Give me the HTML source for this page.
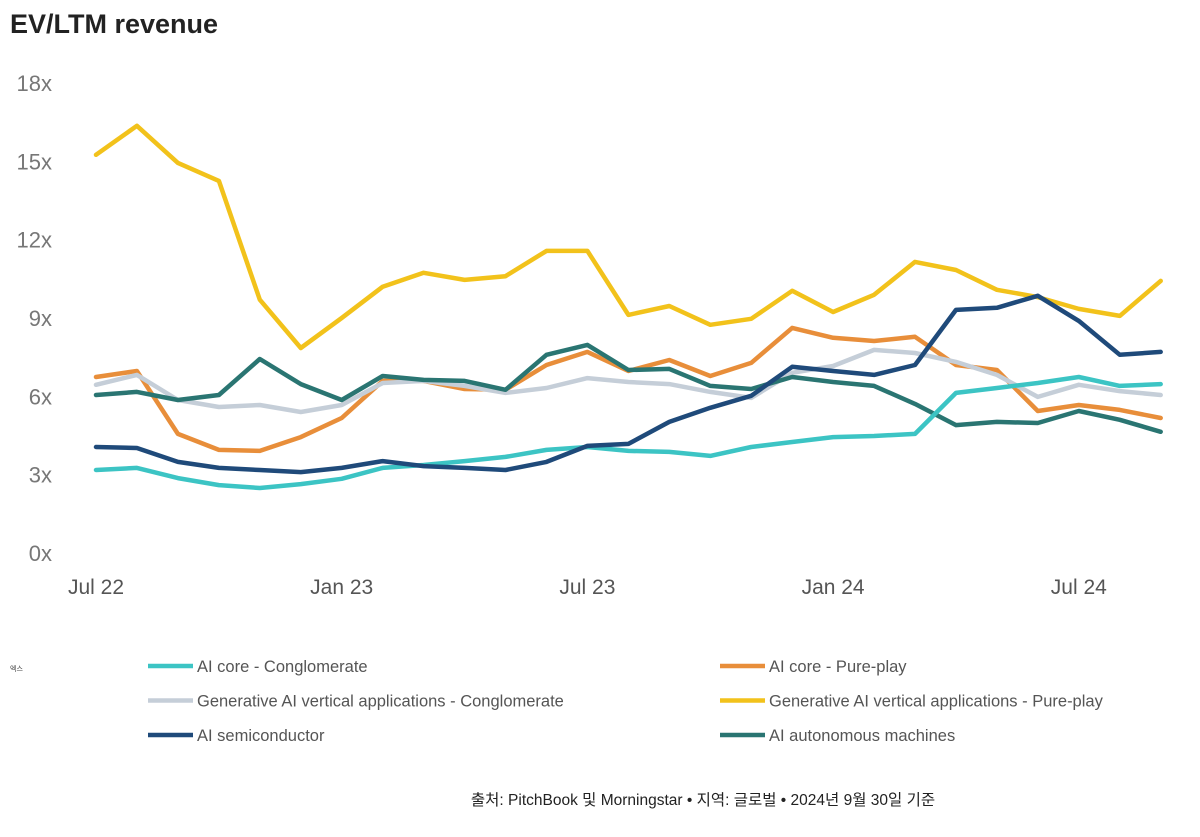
<!DOCTYPE html>
<html><head><meta charset="utf-8"><style>
body{margin:0;background:#fff;width:1200px;height:832px;overflow:hidden;font-family:"Liberation Sans","Noto Sans CJK KR",sans-serif}
</style></head><body>
<svg width="1200" height="832" xmlns="http://www.w3.org/2000/svg">
<text x="10" y="33" font-size="27" font-weight="bold" fill="#222">EV/LTM revenue</text>
<g id="yticks"></g><g id="xticks"></g><g id="lines"></g><g id="legend"></g>
<text x="10" y="671" font-size="7" fill="#444">엑스</text>
<text x="703" y="805" font-size="15.5" fill="#222" text-anchor="middle">출처: PitchBook 및 Morningstar • 지역: 글로벌 • 2024년 9월 30일 기준</text>
</svg>
<script>
const yTicks=[0,3,6,9,12,15,18];
const xTickLabels=["Jul 22","Jan 23","Jul 23","Jan 24","Jul 24"];
const xTickIdx=[0,6,12,18,24];
const seriesNames=["AI core - Conglomerate","AI core - Pure-play","Generative AI vertical applications - Conglomerate","Generative AI vertical applications - Pure-play","AI semiconductor","AI autonomous machines"];
const seriesColors=["#3cc4c4","#e88e3a","#c5ced8","#f2c21b","#1f4a7a","#2a7572"];
const aiCoreConglomerate=[3.18,3.26,2.87,2.6,2.49,2.64,2.84,3.26,3.37,3.52,3.68,3.95,4.06,3.91,3.87,3.72,4.06,4.25,4.44,4.48,4.56,6.13,6.32,6.51,6.74,6.4,6.47];
const aiCorePurePlay=[6.74,6.97,4.56,3.95,3.91,4.44,5.17,6.59,6.59,6.28,6.25,7.2,7.7,6.97,7.39,6.78,7.28,8.62,8.24,8.12,8.28,7.2,7.01,5.44,5.67,5.48,5.17];
const genAIConglomerate=[6.44,6.82,5.86,5.59,5.67,5.4,5.67,6.51,6.59,6.4,6.13,6.32,6.7,6.55,6.47,6.17,5.94,6.9,7.16,7.78,7.66,7.32,6.82,5.98,6.44,6.2,6.05];
const genAIPurePlay=[15.25,16.36,14.94,14.25,9.7,7.85,9.0,10.2,10.73,10.46,10.6,11.57,11.57,9.12,9.46,8.74,8.97,10.04,9.23,9.89,11.15,10.84,10.08,9.8,9.35,9.08,10.42];
const aiSemiconductor=[4.06,4.02,3.49,3.26,3.18,3.1,3.26,3.52,3.33,3.26,3.18,3.49,4.1,4.18,5.02,5.56,6.02,7.13,6.97,6.82,7.2,9.31,9.39,9.85,8.89,7.59,7.7];
const aiAutonomous=[6.05,6.17,5.86,6.05,7.43,6.47,5.86,6.78,6.63,6.59,6.25,7.59,7.97,7.01,7.05,6.4,6.28,6.74,6.55,6.4,5.71,4.9,5.02,4.98,5.44,5.1,4.64];
const allSeries=[aiCoreConglomerate,aiCorePurePlay,genAIConglomerate,genAIPurePlay,aiSemiconductor,aiAutonomous];
const drawOrder=[3,1,2,5,0,4];
const NS="http://www.w3.org/2000/svg";
const y=v=>553-v*(470/18);
const x=i=>96+i*40.95;
function mk(t,a,p){const e=document.createElementNS(NS,t);for(const k in a)e.setAttribute(k,a[k]);p.appendChild(e);return e;}
const yg=document.getElementById('yticks');
yTicks.forEach(v=>{const t=mk('text',{x:52,y:y(v)+8,'font-size':22,fill:'#777','text-anchor':'end'},yg);t.textContent=v+'x';

});
const xg=document.getElementById('xticks');
xTickLabels.forEach((l,k)=>{const t=mk('text',{x:x(xTickIdx[k]),y:594,'font-size':21,fill:'#555','text-anchor':'middle'},xg);t.textContent=l;

});
const lg=document.getElementById('lines');
drawOrder.forEach(s=>{const d=allSeries[s].map((v,i)=>(i?'L':'M')+x(i).toFixed(1)+','+y(v).toFixed(1)).join('');
const p=mk('path',{d:d,fill:'none',stroke:seriesColors[s],'stroke-width':4.5,'stroke-linejoin':'round','stroke-linecap':'round'},lg);

});
const leg=document.getElementById('legend');
seriesNames.forEach((n,s)=>{const cx=s%2?720:148,cy=666+Math.floor(s/2)*34.5;
const g=mk('g',{},leg);


mk('line',{x1:cx,x2:cx+45,y1:cy,y2:cy,stroke:seriesColors[s],'stroke-width':4.5},g);
const t=mk('text',{x:cx+49,y:cy+6,'font-size':16.5,fill:'#555'},g);t.textContent=n;});
</script>
</body></html>
